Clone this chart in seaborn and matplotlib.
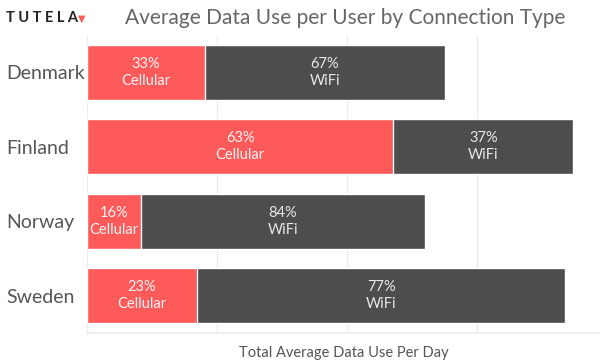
"""Average data use per user by connection type, stacked horizontal bars."""

import matplotlib.pyplot as plt
import pandas as pd
import seaborn as sns

countries = ["Denmark", "Finland", "Norway", "Sweden"]
total_use = [2.75, 3.74, 2.60, 3.68]
cellular_pct = [33, 63, 16, 23]
wifi_pct = [67, 37, 84, 77]

RED = "#ff5a5a"
DARK = "#4d4d4d"
GREY = "#555555"

sns.set_theme(style="whitegrid")
plt.rcParams["font.family"] = ["Lato", "DejaVu Sans"]

frame = pd.DataFrame(
    {
        "Country": countries,
        "Total": total_use,
        "Cellular": [t * c / 100 for t, c in zip(total_use, cellular_pct)],
    }
)

fig = plt.figure(figsize=(6, 3.6), dpi=100)
ax = fig.add_axes([0.145, 0.075, 0.855, 0.828])

sns.barplot(data=frame, y="Country", x="Total", color=DARK, saturation=1,
            width=0.74, ax=ax, orient="h")
sns.barplot(data=frame, y="Country", x="Cellular", color=RED, saturation=1,
            width=0.74, ax=ax, orient="h")

for i, row in frame.iterrows():
    cell, total = row["Cellular"], row["Total"]
    ax.text(cell / 2, i, f"{cellular_pct[i]}%\nCellular", ha="center", va="center",
            color="#f4f4f4", fontsize=10.5, linespacing=1.25)
    ax.text((cell + total) / 2, i, f"{wifi_pct[i]}%\nWiFi", ha="center", va="center",
            color="#e8e8e8", fontsize=10.5, linespacing=1.25)

ax.set_xlim(0, 3.946)
ax.set_ylim(3.5, -0.5)
ax.set_xticks([0, 1, 2, 3])
ax.set_xticklabels([])
ax.tick_params(axis="x", length=0)
ax.grid(axis="x", color="#ececec", linewidth=0.9)
ax.grid(axis="y", visible=False)
ax.set_axisbelow(True)
for side in ["top", "right", "left"]:
    ax.spines[side].set_visible(False)
ax.spines["bottom"].set_color("#ececec")

ax.set_ylabel("")
ax.set_xlabel("Total Average Data Use Per Day", color=GREY, fontsize=10.5, labelpad=6)
ax.tick_params(axis="y", length=0, pad=58, labelsize=14, labelcolor=GREY)
for label in ax.get_yticklabels():
    label.set_horizontalalignment("left")

fig.text(0.575, 0.95, "Average Data Use per User by Connection Type",
         ha="center", va="center", color="#666666", fontsize=15)
fig.text(0.01, 0.95, "T U T E L A", ha="left", va="center", color="#222222",
         fontsize=10.5, fontweight="bold")
fig.text(0.13, 0.948, "▼", ha="left", va="center", color=RED, fontsize=7,
         family=["DejaVu Sans"])

fig.savefig("out.png", dpi=100)
plt.close(fig)
